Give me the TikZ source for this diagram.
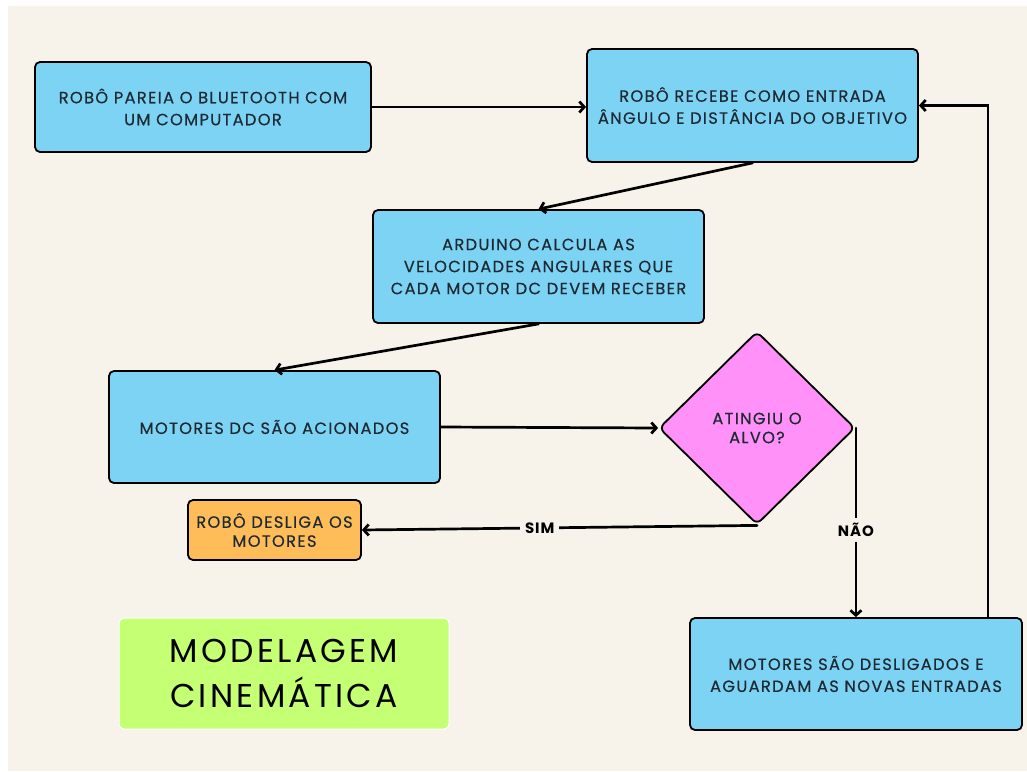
\documentclass[tikz,border=0pt]{standalone}
\usepackage{fontspec}
\setmainfont{Poppins}
\newfontfamily\boxfont[LetterSpace=8, FakeBold=0.4]{Poppins}
\newfontfamily\labelfont[LetterSpace=6]{Poppins}
\newfontfamily\titlefont[LetterSpace=10]{Poppins}
\usetikzlibrary{arrows.meta, shapes.geometric, positioning}

\definecolor{paper}{HTML}{F7F2EA}
\definecolor{skyfill}{HTML}{7DD3F4}
\definecolor{pinkfill}{HTML}{FF91F8}
\definecolor{orangefill}{HTML}{FFBD59}
\definecolor{limefill}{HTML}{C4FF74}
\definecolor{ink}{HTML}{1E2A33}

\begin{document}
\begin{tikzpicture}[x=1pt, y=-1pt,
  box/.style={draw=black, line width=1.8pt, rounded corners=5pt, fill=skyfill,
    align=center, inner sep=0pt, text=ink,
    font=\boxfont\fontsize{16.3}{22}\selectfont},
  decision/.style={box, diamond, fill=pinkfill, rounded corners=6pt,
    font=\boxfont\fontsize{16.3}{19}\selectfont},
  arr/.style={line width=2.7pt, line cap=round,
    -{Straight Barb[length=5pt,width=11pt]}},
  lbl/.style={font=\labelfont\bfseries\fontsize{15}{16}\selectfont,
    fill=paper, inner sep=5pt}]

% canvas
\fill[white] (0,0) rectangle (1027,771);
\fill[paper] (8,6) rectangle (1027,771);
\useasboundingbox (0,0) rectangle (1027,771);

% boxes
\node[box, minimum width=336pt, minimum height=90pt] (pair) at (203,107)
  {ROBÔ PAREIA O BLUETOOTH COM\\UM COMPUTADOR};
\node[box, minimum width=331pt, minimum height=113pt] (input) at (752.5,105.5)
  {ROBÔ RECEBE COMO ENTRADA\\ÂNGULO E DISTÂNCIA DO OBJETIVO};
\node[box, minimum width=331pt, minimum height=113pt] (calc) at (538.5,266.5)
  {ARDUINO CALCULA AS\\VELOCIDADES ANGULARES QUE\\CADA MOTOR DC DEVEM RECEBER};
\node[box, minimum width=331pt, minimum height=112pt] (drive) at (274.5,427)
  {MOTORES DC SÃO ACIONADOS};
\node[decision, minimum width=196pt, minimum height=193pt] (goal) at (757,428)
  {ATINGIU O\\ALVO?};
\node[box, fill=orangefill, minimum width=173pt, minimum height=60pt,
  font=\boxfont\fontsize{16.3}{19}\selectfont] (stop) at (274.5,530)
  {ROBÔ DESLIGA OS\\MOTORES};
\node[box, minimum width=332pt, minimum height=112pt] (wait) at (856,674)
  {MOTORES SÃO DESLIGADOS E\\AGUARDAM AS NOVAS ENTRADAS};

% title
\node[draw=white, line width=1pt, rounded corners=5pt, fill=limefill,
  minimum width=330pt, minimum height=111pt, align=center,
  font=\titlefont\fontsize{33}{45}\selectfont] (title) at (284,673.5)
  {MODELAGEM\\CINEMÁTICA};

% connectors
\draw[arr] (pair.east) -- (pair.east -| input.west);
\draw[arr] (input.south) -- (calc.north);
\draw[arr] (calc.south) -- (drive.north);
\draw[arr] (drive.east) -- (goal.west);
\draw[arr] (goal.south) -- node[lbl, pos=0.55] {SIM} (stop.east);
\draw[arr] (goal.east) -- node[lbl, pos=0.54] {NÃO} (goal.east |- wait.north);
\draw[arr] ([xshift=-35pt]wait.north east) |- (input.east);

\end{tikzpicture}
\end{document}
